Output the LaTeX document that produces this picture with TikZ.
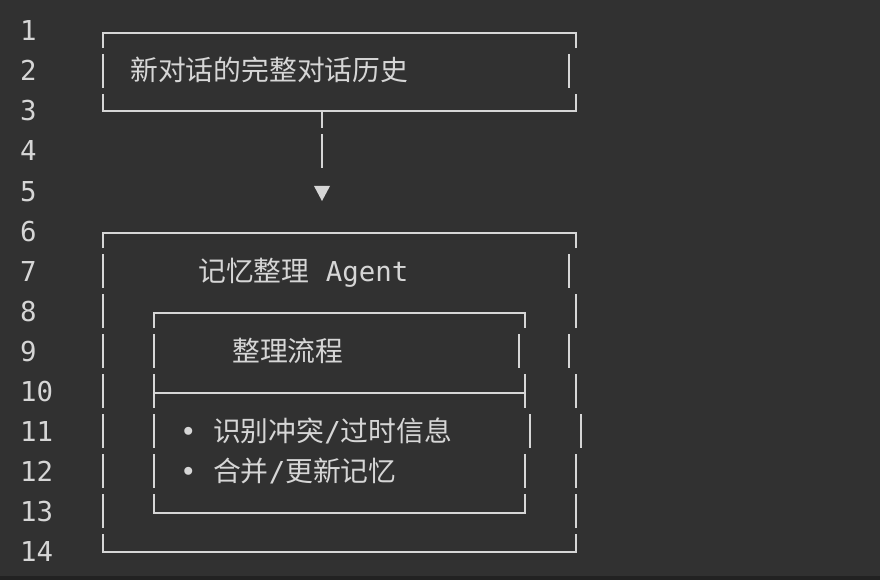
\documentclass[tikz,border=0pt]{standalone}
\usepackage{fontspec}
\setmonofont{DejaVu Sans Mono}
\newfontfamily\cjk{Noto Sans CJK SC}
\usetikzlibrary{calc}
\definecolor{editorbg}{RGB}{49,49,49}
\definecolor{editorfg}{RGB}{214,214,214}
\newcommand\vb[2]{\draw[boxline] (#1,#2-17) -- (#1,#2+17);}
\newcommand\zh[1]{{\cjk\fontsize{27.8pt}{40pt}\selectfont #1}}

\begin{document}
\begin{tikzpicture}[x=1pt,y=-1pt,
  boxline/.style={editorfg,line width=2pt},
  txt/.style={anchor=base west,inner sep=0pt,text=editorfg,font=\ttfamily\fontsize{27.4pt}{40pt}\selectfont}]
\fill[editorbg] (0,0) rectangle (880,580);
\fill[editorbg!70!black] (0,576) rectangle (880,580);
\useasboundingbox (0,0) rectangle (880,580);
\foreach \n in {1,...,14} \node[txt] (ln\n) at (20,{40*\n+1}) {\n};
% first box
\draw[boxline] (103,48) |- (576,33) -- (576,48);
\vb{103}{71} \vb{569}{71}
\draw[boxline] (103,94) |- (576,111) -- (576,94);
\node[txt] (hist) at (130,81) {\zh{新对话的完整对话历史}};
% arrow down
\coordinate (fork) at (322,111);
\coordinate (tip) at (322,201);
\draw[boxline] (fork) -- ++(0,17);
\vb{322}{151}
\fill[editorfg] (tip) -- ++(-8,-15) -- ++(16,0) -- cycle;
% outer box
\draw[boxline] (103,248) |- (576,233) -- (576,248);
\foreach \y in {271,311,...,511} \vb{103}{\y};
\vb{569}{271} \vb{576}{311} \vb{569}{351} \vb{576}{391} \vb{581}{431} \vb{576}{471} \vb{576}{511}
\draw[boxline] (103,534) |- (576,552) -- (576,534);
\node[txt] (agent) at (198,281) {\zh{记忆整理} Agent};
% inner box
\draw[boxline] (154,328) |- (525,313) -- (525,328);
\foreach \y in {351,391,431,471} \vb{154}{\y};
\vb{519}{351} \vb{525}{391} \vb{530}{431} \vb{525}{471}
\draw[boxline] (154,393) -- (525,393);
\draw[boxline] (154,494) |- (525,513) -- (525,494);
\node[txt] (flow) at (232,361) {\zh{整理流程}};
\node[txt] (conflict) at (180,441) {• \zh{识别冲突}/\zh{过时信息}};
\node[txt] (merge) at (180,481) {• \zh{合并}/\zh{更新记忆}};
\end{tikzpicture}
\end{document}
